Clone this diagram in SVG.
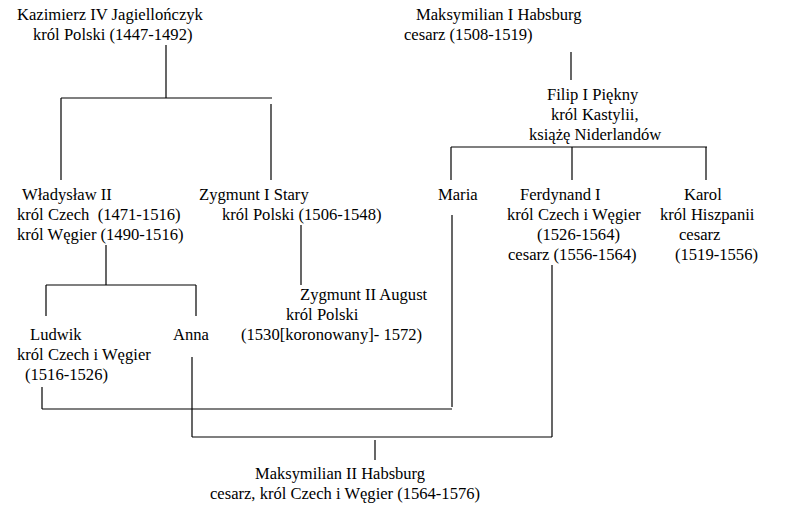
<svg xmlns="http://www.w3.org/2000/svg" width="788" height="515" viewBox="0 0 788 515">
<style>
text{font-family:"Liberation Serif","Times New Roman",serif;font-size:16.6px;fill:#000}
.c line{stroke:#000;stroke-width:1.2}
</style>
<rect width="788" height="515" fill="#fff"/>
<g class="c" id="connectors">
<line x1="166" y1="45" x2="166" y2="98"/>
<line x1="61" y1="98" x2="272" y2="98"/>
<line x1="61" y1="98" x2="61" y2="180"/>
<line x1="271" y1="104" x2="271" y2="180"/>
<line x1="571" y1="52" x2="571" y2="80"/>
<line x1="451" y1="147" x2="707" y2="147"/>
<line x1="451" y1="147" x2="451" y2="180"/>
<line x1="572" y1="147" x2="572" y2="180"/>
<line x1="706" y1="147" x2="706" y2="180"/>
<line x1="106" y1="245" x2="106" y2="285"/>
<line x1="46" y1="285" x2="196" y2="285"/>
<line x1="46" y1="285" x2="46" y2="316"/>
<line x1="196" y1="285" x2="196" y2="316"/>
<line x1="301" y1="225" x2="301" y2="285"/>
<line x1="452" y1="215" x2="452" y2="407"/>
<line x1="552" y1="265" x2="552" y2="437"/>
<line x1="42" y1="387" x2="42" y2="409"/>
<line x1="42" y1="409" x2="452" y2="409"/>
<line x1="192" y1="357" x2="192" y2="437"/>
<line x1="192" y1="437" x2="552" y2="437"/>
<line x1="375" y1="440" x2="375" y2="460"/>
</g>
<g id="kazimierz"><text x="17" y="20">Kazimierz IV Jagiellończyk</text><text x="33" y="40">król Polski (1447-1492)</text></g>
<g id="maksymilian1"><text x="416" y="20">Maksymilian I Habsburg</text><text x="404" y="40">cesarz (1508-1519)</text></g>
<g id="filip"><text x="547" y="100">Filip I Piękny</text><text x="551" y="120">król Kastylii,</text><text x="529" y="140">książę Niderlandów</text></g>
<g id="wladyslaw"><text x="22" y="200">Władysław II</text><text x="17" y="220" xml:space="preserve">król Czech  (1471-1516)</text><text x="17" y="240">król Węgier (1490-1516)</text></g>
<g id="zygmunt1"><text x="199" y="200">Zygmunt I Stary</text><text x="222" y="220">król Polski (1506-1548)</text></g>
<g id="zygmunt2"><text x="300" y="300">Zygmunt II August</text><text x="286" y="320">król Polski</text><text x="241" y="340">(1530[koronowany]- 1572)</text></g>
<g id="ludwik"><text x="30" y="340">Ludwik</text><text x="17" y="360">król Czech i Węgier</text><text x="25" y="380">(1516-1526)</text></g>
<g id="anna"><text x="173" y="340">Anna</text></g>
<g id="maria"><text x="438" y="200">Maria</text></g>
<g id="ferdynand"><text x="520" y="200">Ferdynand I</text><text x="507" y="220">król Czech i Węgier</text><text x="537" y="240">(1526-1564)</text><text x="508" y="260">cesarz (1556-1564)</text></g>
<g id="karol"><text x="684" y="200">Karol</text><text x="660" y="220">król Hiszpanii</text><text x="679" y="240">cesarz</text><text x="675" y="260">(1519-1556)</text></g>
<g id="maksymilian2"><text x="255" y="479" textLength="170" lengthAdjust="spacingAndGlyphs">Maksymilian II Habsburg</text><text x="210" y="499" textLength="270" lengthAdjust="spacingAndGlyphs">cesarz, król Czech i Węgier (1564-1576)</text></g>
</svg>
